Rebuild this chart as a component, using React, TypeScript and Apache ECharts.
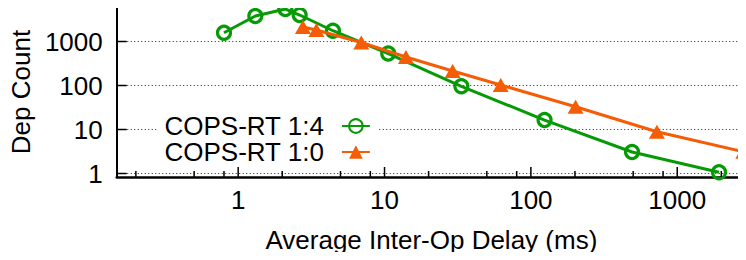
import React, { useEffect, useRef } from "react";
import * as echarts from "echarts";

// Series data (x = average inter-op delay in ms, y = dep count)
const copsRT14X = [0.8, 1.31, 2.1, 2.63, 4.44, 10.6, 33.5, 124, 491, 1930];
const copsRT14Y = [1585, 3800, 5480, 4000, 1757, 533, 96, 16.4, 3.08, 1.07];
const copsRT10X = [2.77, 3.42, 6.94, 14.0, 29.2, 62.2, 202, 726, 2830];
const copsRT10Y = [2130, 1825, 950, 445, 214, 102.6, 33, 8.9, 3.13];

const seriesNames = ["COPS-RT 1:4", "COPS-RT 1:0"];

// Axis ticks
const xMajorTicks = [1, 10, 100, 1000];
const xMinorTicks = [0.2, 0.5, 0.8, 2, 5, 8, 20, 50, 80, 200, 500, 800, 2000];
const yMajorTicks = [1, 10, 100, 1000];

const X_MIN = 0.148;
const X_MAX = 2950;
const Y_MIN = 0.833;
const Y_MAX = 6085;

const GREEN = "#079a07";
const ORANGE = "#f45c05";
const FONT = "'Liberation Sans', Arial, Helvetica, sans-serif";
const FS = 26;

export default function App() {
  const ref = useRef<HTMLDivElement>(null);

  useEffect(() => {
    if (!ref.current) return;
    const chart = echarts.init(ref.current, undefined, { renderer: "svg" });

    const isPow10 = (v: number) => {
      const l = Math.log10(v);
      return Math.abs(l - Math.round(l)) < 1e-6;
    };

    const xTickSeries = (ticks: number[], len: number) => ({
      type: "custom",
      silent: true,
      clip: false,
      z: 5,
      data: ticks.map((v) => [v, Y_MIN]),
      encode: { x: 0, y: 1 },
      renderItem: (params: any, api: any) => {
        const p = api.coord([api.value(0), api.value(1)]);
        return {
          type: "line",
          shape: { x1: p[0], y1: p[1], x2: p[0], y2: p[1] - len },
          style: { stroke: "#000", lineWidth: 1.5 },
        };
      },
    });

    const yTickSeries = (ticks: number[], len: number) => ({
      type: "custom",
      silent: true,
      clip: false,
      z: 5,
      data: ticks.map((v) => [X_MIN, v]),
      encode: { x: 0, y: 1 },
      renderItem: (params: any, api: any) => {
        const p = api.coord([api.value(0), api.value(1)]);
        return {
          type: "line",
          shape: { x1: p[0], y1: p[1], x2: p[0] + len, y2: p[1] },
          style: { stroke: "#000", lineWidth: 1.5 },
        };
      },
    });

    chart.setOption({
      animation: false,
      textStyle: { fontFamily: FONT },
      grid: { left: 112, top: 7, right: 0, bottom: 83, containLabel: false },
      legend: {
        data: seriesNames,
        orient: "vertical",
        align: "right",
        left: 158,
        top: 113,
        padding: [0, 8, 0, 6],
        itemGap: 0,
        itemWidth: 28,
        itemHeight: 17,
        backgroundColor: "#fff",
        selectedMode: false,
        formatter: "{a|{name}}",
        textStyle: {
          fontFamily: FONT,
          fontSize: FS,
          color: "#000",
          lineHeight: 25,
          rich: { a: { fontFamily: FONT, fontSize: FS, color: "#000", lineHeight: 25, padding: [0, 13, 0, 0] } },
        },
      },
      xAxis: {
        type: "log",
        min: X_MIN,
        max: X_MAX,
        name: "Average Inter-Op Delay (ms)",
        nameLocation: "middle",
        nameGap: 50,
        nameTextStyle: { fontFamily: FONT, fontSize: FS, color: "#000" },
        axisLine: { show: true, lineStyle: { color: "#000", width: 2.5 } },
        axisTick: { show: false },
        splitLine: { show: false },
        minorTick: { show: false },
        axisLabel: {
          fontFamily: FONT,
          fontSize: FS,
          color: "#000",
          margin: 10,
          showMinLabel: false,
          showMaxLabel: false,
          formatter: (v: number) => (isPow10(v) ? String(Math.round(v)) : ""),
        },
      },
      yAxis: {
        type: "log",
        min: Y_MIN,
        max: Y_MAX,
        name: "Dep Count",
        nameLocation: "middle",
        nameGap: 65,
        nameTextStyle: { fontFamily: FONT, fontSize: FS, color: "#000" },
        axisLine: { show: true, lineStyle: { color: "#000", width: 2 } },
        axisTick: { show: false },
        splitLine: { show: false },
        axisLabel: {
          fontFamily: FONT,
          fontSize: FS,
          color: "#000",
          margin: 14,
          showMinLabel: false,
          showMaxLabel: false,
          formatter: (v: number) => (isPow10(v) ? String(Math.round(v)) : ""),
        },
      },
      series: [
        {
          name: seriesNames[0],
          type: "line",
          clip: false,
          data: copsRT14X.map((x, i) => [x, copsRT14Y[i]]),
          symbol: "circle",
          symbolSize: 13,
          lineStyle: { color: GREEN, width: 3 },
          itemStyle: { color: "rgba(0,0,0,0)", borderColor: GREEN, borderWidth: 3.2 },
          z: 3,
          markLine: {
            silent: true,
            symbol: "none",
            label: { show: false },
            lineStyle: { color: "#222", width: 1, type: [1, 2.5] },
            z: 1,
            data: yMajorTicks.map((v) => ({ yAxis: v })),
          },
        },
        {
          name: seriesNames[1],
          type: "line",
          clip: false,
          data: copsRT10X.map((x, i) => [x, copsRT10Y[i]]),
          symbol: "triangle",
          symbolSize: [16, 14],
          lineStyle: { color: ORANGE, width: 3 },
          itemStyle: { color: ORANGE },
          z: 4,
        },
        xTickSeries(xMajorTicks, 10),
        xTickSeries(xMinorTicks, 6),
        yTickSeries(yMajorTicks, 10),
      ],
    });

    return () => chart.dispose();
  }, []);

  return <div ref={ref} style={{ width: 746, height: 260, margin: -8 }} />;
}
